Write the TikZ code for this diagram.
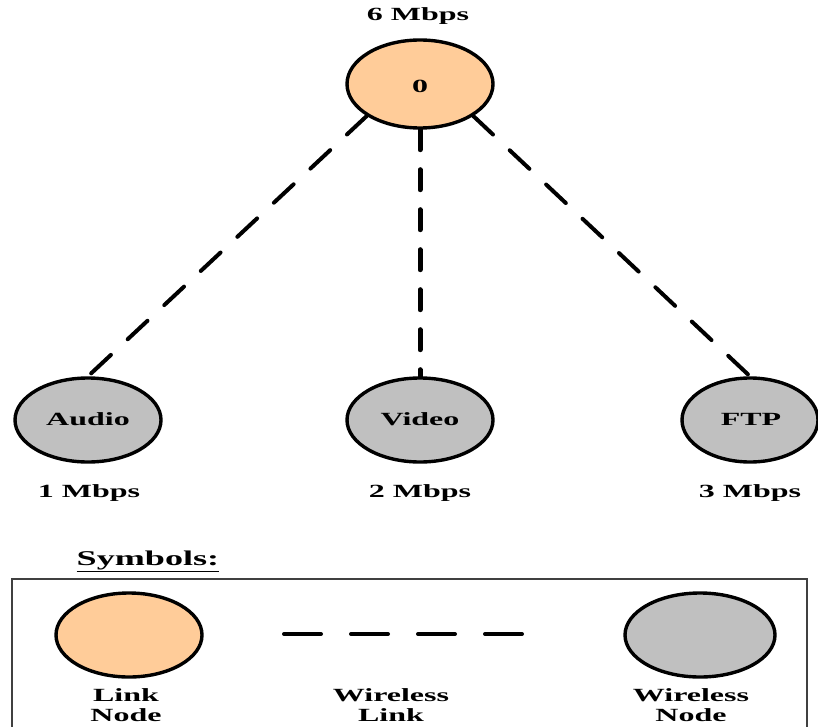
\documentclass[tikz,border=0pt]{standalone}
\usepackage{fontspec}
\setmainfont{Liberation Serif}[FakeStretch=1.72]
\usetikzlibrary{shapes.geometric}
\definecolor{linkfill}{RGB}{255,204,153}
\definecolor{wirefill}{RGB}{192,192,192}
\definecolor{boxline}{RGB}{64,64,64}
\tikzset{
  lbl/.style={font=\fontsize{18.6}{20}\selectfont\bfseries, inner sep=0pt, anchor=base},
  ell/.style={ellipse, draw=black, line width=3.4pt, inner sep=0pt, minimum width=146pt, minimum height=84pt,
              font=\fontsize{18.6}{20}\selectfont\bfseries},
  linknode/.style={ell, fill=linkfill},
  wirenode/.style={ell, fill=wirefill},
  wlink/.style={line width=4pt, line cap=round, dash pattern=on 27pt off 23pt},
  wlinkv/.style={line width=5pt, line cap=round, dash pattern=on 20pt off 20pt},
}
\begin{document}
\begin{tikzpicture}[x=1pt,y=-1pt]
\useasboundingbox (0,0) rectangle (818,727);

% main nodes
\node[linknode, minimum height=88pt] (n0) at (420,84) {};
\node[lbl] (n0t) at (420,93) {0};
\node[wirenode] (a) at (88,420) {};
\node[wirenode] (v) at (420,420) {};
\node[wirenode, minimum width=136pt] (f) at (750,420) {};
\node[lbl] (at) at (88,425) {Audio};
\node[lbl] (vt) at (420,425) {Video};
\node[lbl] (ft) at (751,425) {FTP};

% rate labels
\node[lbl] (r0) at (418,21) {6 Mbps};
\node[lbl] (r1) at (89,497) {1 Mbps};
\node[lbl] (r2) at (420,497) {2 Mbps};
\node[lbl] (r3) at (750,497) {3 Mbps};

% wireless links
\draw[wlink] (n0.211) -- (a.north);
\draw[wlinkv] (n0.south) -- (v.north);
\draw[wlink] (n0.-31) -- (f.north);

% legend
\node[lbl, font=\fontsize{21}{22}\selectfont\bfseries] (sym) at (148,565) {\underline{Symbols:}};
\coordinate (bl) at (12,740);
\coordinate (tl) at (12,579);
\coordinate (tr) at (807,579);
\coordinate (br) at (807,740);
\draw[boxline, line width=2.5pt] (bl) -- (tl) -- (tr) -- (br);

\node[linknode] (ln) at (129,635) {};
\node[wirenode, minimum width=150pt] (wn) at (700,635) {};
\coordinate (d1) at (284,634);
\coordinate (d2) at (523,634);
\draw[line width=4pt, line cap=round, dash pattern=on 37pt off 30pt] (d1) -- (d2);

\node[lbl, align=center] (lnt) at (126,721) {Link\\Node};
\node[lbl, align=center] (wlt) at (391,721) {Wireless\\Link};
\node[lbl, align=center] (wnt) at (691,721) {Wireless\\Node};
\end{tikzpicture}
\end{document}
